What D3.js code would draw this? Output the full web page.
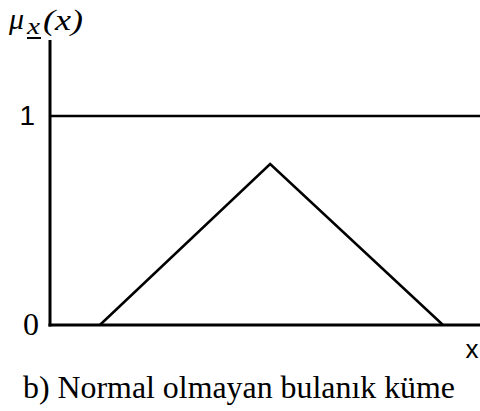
<!DOCTYPE html>
<html>
<head>
<meta charset="utf-8">
<script src="https://cdn.jsdelivr.net/npm/d3@7"></script>
</head>
<body style="margin:0; background:#fff">
<svg id="chart" width="480" height="411"></svg>
<script>
// membership function points (x, mu)
const xVals = [1.16, 5.12, 9.14];
const muVals = [0, 0.77, 0];
const yTicks = [0, 1];
const caption = "b) Normal olmayan bulanık küme";

const width = 480, height = 411,
      margin = ({ top: 40, right: 0, bottom: 86, left: 50 });

let svg = d3.select("#chart");

let x = d3.scaleLinear()
    .domain([0, 10])
    .range([margin.left, width - margin.right]);

let y = d3.scaleLinear()
    .domain([0, 1])
    .range([325, 116]);

// y axis line
svg.append("line")
    .attr("x1", x(0)).attr("x2", x(0))
    .attr("y1", margin.top).attr("y2", y(0) + 1.5)
    .attr("stroke", "black")
    .attr("stroke-width", 3);

// x axis line
svg.append("line")
    .attr("x1", x(0) - 1.5).attr("x2", x(10))
    .attr("y1", y(0)).attr("y2", y(0))
    .attr("stroke", "black")
    .attr("stroke-width", 3);

// mu = 1 line
svg.append("line")
    .attr("x1", x(0)).attr("x2", x(10))
    .attr("y1", y(1)).attr("y2", y(1))
    .attr("stroke", "black")
    .attr("stroke-width", 2.5);

// triangle
let pts = xVals.map((v, i) => [v, muVals[i]]);
svg.append("path")
    .datum(pts)
    .attr("fill", "none")
    .attr("stroke", "black")
    .attr("stroke-width", 2.5)
    .attr("d", d3.line().x(d => x(d[0])).y(d => y(d[1])));

// labels, font set per label
const labels = [
    { t: String(yTicks[1]), x: 35, y: y(1) + 9, anchor: "end", fam: "Liberation Sans", size: 28 },
    { t: String(yTicks[0]), x: 39, y: y(0) + 10, anchor: "end", fam: "Liberation Serif", size: 32 },
    { t: "x", x: 472, y: 358, anchor: "middle", fam: "Liberation Sans", size: 26 },
    { t: "μ", x: 9, y: 29, anchor: "start", fam: "Liberation Serif", size: 30, it: true },
    { t: "x", x: 27, y: 34, anchor: "start", fam: "Liberation Serif", size: 24, it: true, len: 13 },
    { t: "(x)", x: 43, y: 30, anchor: "start", fam: "Liberation Serif", size: 29, it: true, len: 40 },
    { t: caption, x: 23, y: 398, anchor: "start", fam: "Liberation Serif", size: 31, len: 432 }
];

let lbl = svg.selectAll("text.lbl")
    .data(labels)
    .join("text")
    .attr("class", "lbl")
    .attr("x", d => d.x)
    .attr("y", d => d.y)
    .attr("text-anchor", d => d.anchor)
    .style("font-family", d => `'${d.fam}'`)
    .style("font-size", d => d.size + "px")
    .style("font-style", d => d.it ? "italic" : "normal")
    .text(d => d.t);

lbl.filter(d => d.len)
    .attr("textLength", d => d.len)
    .attr("lengthAdjust", "spacingAndGlyphs");

// underline under the subscript
svg.append("line")
    .attr("x1", 27).attr("x2", 41)
    .attr("y1", 38).attr("y2", 38)
    .attr("stroke", "black")
    .attr("stroke-width", 2);
</script>
</body>
</html>
